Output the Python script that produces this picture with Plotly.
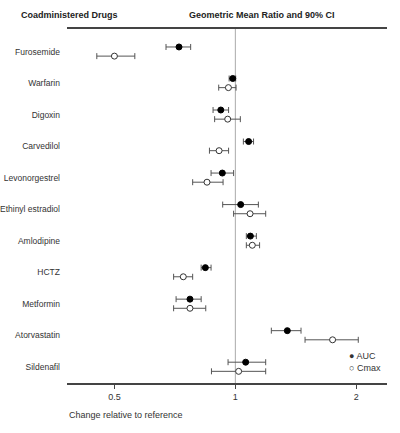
import numpy as np
import plotly.graph_objects as go

drugs = ["Furosemide", "Warfarin", "Digoxin", "Carvedilol", "Levonorgestrel",
         "Ethinyl estradiol", "Amlodipine", "HCTZ", "Metformin", "Atorvastatin", "Sildenafil"]

auc_gmr = [0.724, 0.985, 0.920, 1.079, 0.928, 1.031, 1.090, 0.842, 0.771, 1.347, 1.061]
auc_lo = [0.672, 0.965, 0.880, 1.047, 0.870, 0.930, 1.065, 0.822, 0.712, 1.229, 0.959]
auc_hi = [0.774, 1.002, 0.962, 1.110, 0.990, 1.141, 1.128, 0.870, 0.822, 1.457, 1.190]

cmax_gmr = [0.500, 0.961, 0.957, 0.911, 0.850, 1.088, 1.102, 0.742, 0.771, 1.746, 1.019]
cmax_lo = [0.452, 0.909, 0.888, 0.862, 0.783, 0.990, 1.065, 0.702, 0.702, 1.491, 0.872]
cmax_hi = [0.562, 1.004, 1.029, 0.962, 0.932, 1.190, 1.149, 0.783, 0.844, 2.023, 1.190]

tick_vals = [0.5, 1, 2]
tick_text = ["0.5", "1", "2"]

FONT = "Liberation Sans, Arial, sans-serif"
rows = np.arange(len(drugs))


def err(gmr, lo, hi):
    g = np.array(gmr)
    return dict(type="data", symmetric=False, array=np.array(hi) - g,
                arrayminus=g - np.array(lo), color="#555555", thickness=1, width=3)


fig = go.Figure()
fig.add_trace(go.Scatter(x=auc_gmr, y=rows - 0.15, mode="markers", name="AUC",
                         error_x=err(auc_gmr, auc_lo, auc_hi),
                         marker=dict(size=6, color="black", line=dict(color="black", width=1))))
fig.add_trace(go.Scatter(x=cmax_gmr, y=rows + 0.14, mode="markers", name="Cmax",
                         error_x=err(cmax_gmr, cmax_lo, cmax_hi),
                         marker=dict(size=6, color="white", line=dict(color="#333333", width=1))))

# reference line at 1
fig.add_shape(type="line", xref="x", yref="paper", x0=1, x1=1, y0=0, y1=1,
              line=dict(color="#aaaaaa", width=1), layer="below")

fig.add_annotation(text="<b>Coadministered Drugs</b>", xref="paper", yref="paper",
                   x=-0.15, y=1.02, xanchor="left", yanchor="bottom", showarrow=False,
                   font=dict(size=9, color="#222222"))
fig.add_annotation(text="<b>Geometric Mean Ratio and 90% CI</b>", xref="paper", yref="paper",
                   x=0.61, y=1.02, xanchor="center", yanchor="bottom", showarrow=False,
                   font=dict(size=9, color="#222222"))
fig.add_annotation(text="Change relative to reference", xref="paper", yref="paper",
                   x=0, y=-0.09, xanchor="left", yanchor="middle", showarrow=False,
                   font=dict(size=9, color="#333333"))
# legend
fig.add_annotation(text="● AUC<br>○ Cmax", xref="paper", yref="paper",
                   x=0.875, y=0.059, xanchor="left", yanchor="middle", showarrow=False,
                   align="left", font=dict(size=9, color="#333333"))

fig.update_layout(
    width=400, height=433,
    margin=dict(l=67, r=13, t=29, b=50),
    plot_bgcolor="white", paper_bgcolor="white",
    font=dict(family=FONT, size=9, color="#333333"),
    showlegend=False,
    xaxis=dict(type="log", range=[np.log10(0.381), np.log10(2.385)], automargin=False,
               tickvals=tick_vals, ticktext=tick_text, showgrid=False, zeroline=False,
               showline=True, linecolor="#444444", linewidth=2, mirror=True,
               ticks="outside", ticklen=4, tickcolor="#444444"),
    yaxis=dict(range=[10.51, -0.72], tickvals=rows, ticktext=drugs, showgrid=False,
               automargin=False, zeroline=False, showline=False, ticks="",
               ticklabelstandoff=6, tickfont=dict(size=8.5)),
)
# drop the default page margin so the figure sits at the window corner
fig.write_html("out.html", config={"displayModeBar": False},
               post_script="document.body.style.margin='0';")
